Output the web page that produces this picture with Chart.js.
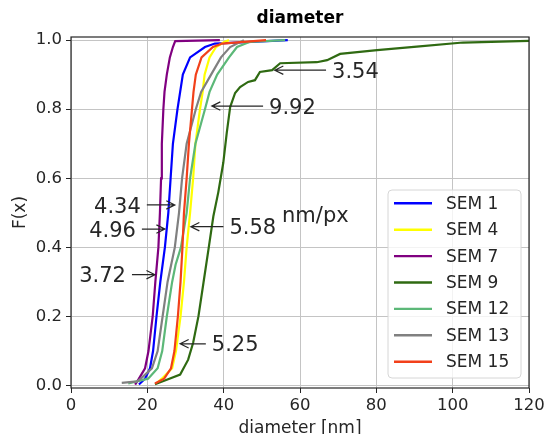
<!DOCTYPE html>
<html>
<head>
<meta charset="utf-8">
<script src="https://cdn.jsdelivr.net/npm/chart.js@4.4.0/dist/chart.umd.min.js"></script>
<style>
  html, body { margin: 0; padding: 0; background: #fff; }
  #wrap { width: 549px; height: 434px; }
</style>
</head>
<body>
<div id="wrap"><canvas id="cdf" width="549" height="434"></canvas></div>
<script>
const seriesNames = ['SEM 1', 'SEM 4', 'SEM 7', 'SEM 9', 'SEM 12', 'SEM 13', 'SEM 15'];
const seriesColors = ['#0000ff', '#ffff00', '#800080', '#2f6a12', '#5cb878', '#808080', '#f2401a'];

const sem1X = [17.8, 19.4, 20.7, 21.5, 22.4, 23.4, 24.6, 25.5, 26.1, 26.7, 27.9, 28.6, 29.3, 31.2, 35.1, 37.7, 56.8];
const sem1Y = [0.003, 0.02, 0.05, 0.1, 0.2, 0.3, 0.4, 0.5, 0.6, 0.7, 0.8, 0.85, 0.9, 0.95, 0.98, 0.99, 1.0];
const sem4X = [22.5, 23.8, 26.5, 27.5, 28.7, 29.6, 30.3, 31.2, 32.0, 32.6, 33.8, 34.5, 35.0, 36.3, 38.0, 40.3, 41.4];
const sem4Y = [0.007, 0.02, 0.05, 0.1, 0.2, 0.3, 0.4, 0.5, 0.6, 0.7, 0.8, 0.85, 0.9, 0.95, 0.98, 0.995, 1.0];
const sem7X = [16.8, 17.8, 19.4, 20.3, 21.4, 22.1, 22.9, 23.3, 23.6, 23.8, 24.2, 24.5, 25.1, 25.9, 26.7, 27.3, 39.0];
const sem7Y = [0.003, 0.02, 0.05, 0.1, 0.2, 0.3, 0.4, 0.5, 0.6, 0.7, 0.8, 0.85, 0.9, 0.95, 0.98, 0.997, 1.0];
const sem9X = [22.0, 25.1, 28.6, 30.7, 32.0, 33.4, 34.7, 36.0, 37.3, 38.6, 39.9, 40.8, 41.7, 43.0, 44.3, 46.4, 48.2, 49.5, 52.7, 54.8, 64.4, 67.1, 70.5, 80.2, 90.6, 102.7, 121.0];
const sem9Y = [0.004, 0.017, 0.032, 0.075, 0.124, 0.201, 0.297, 0.393, 0.49, 0.56, 0.645, 0.731, 0.806, 0.847, 0.864, 0.879, 0.884, 0.908, 0.913, 0.933, 0.936, 0.942, 0.960, 0.971, 0.981, 0.993, 0.998];
const sem12X = [15.0, 20.2, 22.7, 23.9, 25.1, 26.5, 27.4, 28.8, 30.3, 31.2, 32.6, 35.1, 36.3, 38.3, 41.4, 43.5, 46.9, 56.1];
const sem12Y = [0.006, 0.02, 0.05, 0.1, 0.2, 0.3, 0.35, 0.4, 0.5, 0.6, 0.7, 0.8, 0.85, 0.9, 0.95, 0.98, 0.995, 1.0];
const sem13X = [13.3, 17.3, 18.3, 21.2, 22.7, 24.0, 25.3, 27.2, 28.3, 29.1, 30.3, 32.7, 34.1, 36.7, 39.3, 41.7, 45.3];
const sem13Y = [0.008, 0.012, 0.02, 0.05, 0.1, 0.2, 0.3, 0.4, 0.5, 0.6, 0.7, 0.8, 0.85, 0.9, 0.95, 0.98, 1.0];
const sem15X = [22.0, 24.4, 26.2, 27.1, 28.0, 28.7, 29.2, 29.6, 30.3, 30.9, 31.7, 32.1, 32.7, 34.2, 37.2, 39.6, 51.1];
const sem15Y = [0.006, 0.02, 0.05, 0.1, 0.2, 0.3, 0.4, 0.5, 0.6, 0.7, 0.8, 0.85, 0.9, 0.95, 0.98, 0.99, 1.0];

const xTicks = [0, 20, 40, 60, 80, 100, 120];
const yTicks = [0.0, 0.2, 0.4, 0.6, 0.8, 1.0];

// nm/px labels: text edge and arrow tip in data units
const noteText = ['3.54', '9.92', '4.34', '4.96', '3.72', '5.58', '5.25'];
const noteSide = ['right', 'right', 'left', 'left', 'left', 'right', 'right'];
const noteEdgeX = [68.4, 51.9, 18.3, 17.0, 14.4, 41.5, 36.9];
const noteTipX = [53.4, 36.9, 27.2, 24.6, 22.0, 31.4, 28.6];
const noteY = [0.913, 0.809, 0.523, 0.453, 0.321, 0.460, 0.121];

const FONT = 'DejaVu Sans';
const INK = '#262626';

function toPoints(xs, ys) {
    return xs.map((x, i) => ({ x: x, y: ys[i] }));
}

const seriesData = [
    toPoints(sem1X, sem1Y), toPoints(sem4X, sem4Y), toPoints(sem7X, sem7Y),
    toPoints(sem9X, sem9Y), toPoints(sem12X, sem12Y), toPoints(sem13X, sem13Y),
    toPoints(sem15X, sem15Y)
];

const extras = {
    id: 'extras',
    afterDatasetsDraw(chart) {
        const { ctx, scales } = chart;
        const fx = scales.x, fy = scales.y;
        ctx.save();
        ctx.font = '21px "' + FONT + '"';
        ctx.fillStyle = INK;
        ctx.strokeStyle = INK;
        ctx.lineWidth = 1.2;
        noteText.forEach((t, i) => {
            const y = fy.getPixelForValue(noteY[i]);
            const edge = fx.getPixelForValue(noteEdgeX[i]);
            const tip = fx.getPixelForValue(noteTipX[i]);
            const right = noteSide[i] === 'right';
            const tail = right ? edge - 6 : edge + 6;
            ctx.beginPath();
            ctx.moveTo(tail, y);
            ctx.lineTo(tip, y);
            const dir = tip > tail ? -1 : 1;
            ctx.moveTo(tip + dir * 8.5, y - 4.2);
            ctx.lineTo(tip, y);
            ctx.lineTo(tip + dir * 8.5, y + 4.2);
            ctx.stroke();
            ctx.textAlign = right ? 'left' : 'right';
            ctx.textBaseline = 'alphabetic';
            ctx.fillText(t, edge, y + 7.7);
        });
        ctx.textAlign = 'left';
        ctx.fillText('nm/px', fx.getPixelForValue(55.3), fy.getPixelForValue(0.474));
        ctx.restore();
    },
    afterDraw(chart) {
        const { ctx, chartArea: a } = chart;
        ctx.save();
        ctx.strokeStyle = INK;
        ctx.lineWidth = 1.2;
        ctx.strokeRect(a.left, a.top, a.right - a.left, a.bottom - a.top);

        // legend box, upper-left corner fixed inside the axes
        const bx = 388, by = 190, bw = 133, bh = 188, r = 4;
        ctx.beginPath();
        ctx.moveTo(bx + r, by);
        ctx.arcTo(bx + bw, by, bx + bw, by + bh, r);
        ctx.arcTo(bx + bw, by + bh, bx, by + bh, r);
        ctx.arcTo(bx, by + bh, bx, by, r);
        ctx.arcTo(bx, by, bx + bw, by, r);
        ctx.closePath();
        ctx.fillStyle = 'rgba(255,255,255,0.8)';
        ctx.fill();
        ctx.strokeStyle = '#d6d6d6';
        ctx.lineWidth = 1;
        ctx.stroke();

        ctx.font = '17px "' + FONT + '"';
        ctx.textBaseline = 'middle';
        ctx.textAlign = 'left';
        chart.data.datasets.forEach((ds, i) => {
            const ly = by + 13.3 + i * 26.4;
            ctx.strokeStyle = ds.borderColor;
            ctx.lineWidth = 2.4;
            ctx.beginPath();
            ctx.moveTo(bx + 6, ly);
            ctx.lineTo(bx + 44, ly);
            ctx.stroke();
            ctx.fillStyle = INK;
            ctx.fillText(ds.label, bx + 58, ly + 1);
        });
        ctx.restore();
    }
};

Chart.defaults.font.family = FONT;

new Chart(document.getElementById('cdf'), {
    type: 'scatter',
    data: {
        datasets: seriesNames.map((name, i) => ({
            label: name,
            data: seriesData[i],
            showLine: true,
            borderColor: seriesColors[i],
            backgroundColor: seriesColors[i],
            borderWidth: 2.2,
            pointRadius: 0,
            tension: 0,
            order: seriesNames.length - i
        }))
    },
    options: {
        responsive: false,
        animation: false,
        devicePixelRatio: 1,
        layout: { padding: { left: 0, right: 20, top: 0, bottom: 0 } },
        plugins: {
            legend: { display: false },
            tooltip: { enabled: false },
            title: {
                display: true,
                text: 'diameter',
                fullSize: false,
                color: '#000',
                font: { family: FONT, size: 17, weight: 'bold' },
                padding: { top: 8.5, bottom: 8.1 }
            }
        },
        scales: {
            x: {
                type: 'linear',
                position: 'bottom',
                min: 0,
                max: 120,
                afterBuildTicks: s => { s.ticks = xTicks.map(v => ({ value: v })); },
                afterFit: s => { s.height = 46; },
                ticks: { color: INK, font: { size: 16.5 }, padding: 3, maxRotation: 0, callback: v => String(v) },
                grid: { color: '#c4c4c4', lineWidth: 1, tickColor: INK, tickLength: 5 },
                border: { display: false },
                title: {
                    display: true,
                    text: 'diameter [nm]',
                    color: INK,
                    font: { size: 17, lineHeight: 0.6 },
                    padding: { top: 0, bottom: 0 }
                }
            },
            y: {
                type: 'linear',
                min: -0.007,
                max: 1.009,
                afterBuildTicks: s => { s.ticks = yTicks.map(v => ({ value: v })); },
                afterFit: s => { s.width = 71; },
                ticks: { color: INK, font: { size: 16.5 }, padding: 4, callback: v => v.toFixed(1) },
                grid: { color: '#c4c4c4', lineWidth: 1, tickColor: INK, tickLength: 5 },
                border: { display: false },
                title: {
                    display: true,
                    text: 'F(x)',
                    color: INK,
                    font: { size: 17 },
                    padding: { top: 10, bottom: 0 }
                }
            }
        }
    },
    plugins: [extras]
});
</script>
</body>
</html>
